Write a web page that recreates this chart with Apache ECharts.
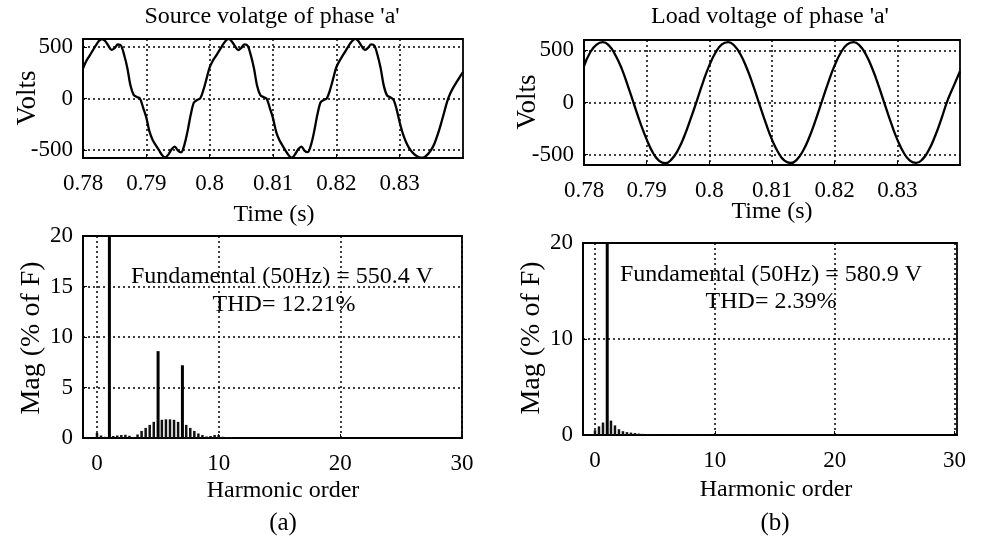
<!DOCTYPE html>
<html><head><meta charset="utf-8">
<script src="https://cdn.jsdelivr.net/npm/echarts@6/dist/echarts.min.js"></script>
<style>html,body{margin:0;padding:0;background:#fff}#c{width:983px;height:546px}</style>
</head><body><div id="c"></div>
<script>
// ---- data ----
const sourceVoltage = [
 [0.7800,290],[0.7805,360],[0.7810,410],[0.7815,460],[0.7820,510],[0.7825,555],[0.7830,575],[0.7835,555],[0.7840,510],[0.7845,470],
 [0.7850,488],[0.7855,522],[0.7860,512],[0.7865,420],[0.7870,295],[0.7875,125],[0.7880,35],[0.7885,15],[0.7890,0],[0.7895,-90],
 [0.7900,-185],[0.7905,-320],[0.7910,-400],[0.7915,-452],[0.7920,-500],[0.7925,-548],[0.7930,-570],[0.7935,-540],[0.7940,-490],[0.7945,-466],
 [0.7950,-505],[0.7955,-520],[0.7960,-450],[0.7965,-320],[0.7970,-160],[0.7975,-40],[0.7980,-15],[0.7985,0],[0.7990,80],[0.7995,190],
 [0.8000,300],[0.8005,365],[0.8010,412],[0.8015,462],[0.8020,512],[0.8025,556],[0.8030,576],[0.8035,552],[0.8040,505],[0.8045,468],
 [0.8050,490],[0.8055,524],[0.8060,510],[0.8065,418],[0.8070,290],[0.8075,120],[0.8080,32],[0.8085,14],[0.8090,-2],[0.8095,-92],
 [0.8100,-190],[0.8105,-322],[0.8110,-402],[0.8115,-455],[0.8120,-505],[0.8125,-550],[0.8130,-572],[0.8135,-538],[0.8140,-488],[0.8145,-465],
 [0.8150,-506],[0.8155,-518],[0.8160,-448],[0.8165,-318],[0.8170,-158],[0.8175,-38],[0.8180,-14],[0.8185,2],[0.8190,82],[0.8195,192],
 [0.8200,302],[0.8205,364],[0.8210,414],[0.8215,462],[0.8220,514],[0.8225,556],[0.8230,576],[0.8235,553],[0.8240,506],[0.8245,469],
 [0.8250,490],[0.8255,523],[0.8260,512],[0.8265,420],[0.8270,292],[0.8275,122],[0.8280,30],[0.8285,12],[0.8290,-10],[0.8295,-100],
 [0.8300,-230],[0.8305,-340],[0.8310,-420],[0.8315,-480],[0.8320,-520],[0.8325,-548],[0.8330,-565],[0.8335,-572],[0.8340,-562],[0.8345,-535],
 [0.8350,-495],[0.8355,-435],[0.8360,-350],[0.8365,-250],[0.8370,-140],[0.8375,-30],[0.8380,50],[0.8385,110],[0.8390,160],[0.8395,210],
 [0.8400,255]
];
const loadVoltage = [
 [0.780,350],[0.781,482],[0.782,556],[0.783,580],[0.784,546],[0.785,456],[0.786,328],[0.787,160],[0.788,-20],[0.789,-198],
 [0.790,-354],[0.791,-482],[0.792,-560],[0.793,-582],[0.794,-544],[0.795,-456],[0.796,-324],[0.797,-160],[0.798,16],[0.799,196],
 [0.800,356],[0.801,480],[0.802,558],[0.803,580],[0.804,545],[0.805,458],[0.806,326],[0.807,162],[0.808,-18],[0.809,-196],
 [0.810,-356],[0.811,-480],[0.812,-558],[0.813,-581],[0.814,-546],[0.815,-458],[0.816,-326],[0.817,-162],[0.818,18],[0.819,196],
 [0.820,356],[0.821,480],[0.822,557],[0.823,580],[0.824,546],[0.825,458],[0.826,326],[0.827,162],[0.828,-18],[0.829,-196],
 [0.830,-356],[0.831,-480],[0.832,-557],[0.833,-580],[0.834,-546],[0.835,-458],[0.836,-326],[0.837,-162],[0.838,18],[0.839,160],
 [0.840,300]
];
const timeTicks = [0.78, 0.79, 0.80, 0.81, 0.82, 0.83];
const voltTicks = [-500, 0, 500];
const harmonicTicks = [0, 10, 20, 30];
const sourceMagTicks = [0, 5, 10, 15, 20];
const loadMagTicks = [0, 10, 20];
const sourceSpectrumMain = [[1,100],[5,8.6],[7,7.2]];
const sourceSpectrumOther = [
 [0,0.5],[0.333,0.25],[0.667,0.12],[1.333,0.2],[1.667,0.25],[2,0.3],[2.333,0.32],[2.667,0.22],[3,0.1],[3.333,0.35],
 [3.667,0.7],[4,1.0],[4.333,1.3],[4.667,1.6],[5.333,1.8],[5.667,1.85],[6,1.85],[6.333,1.8],[6.667,1.6],[7.333,1.3],
 [7.667,1.0],[8,0.7],[8.333,0.45],[8.667,0.3],[9,0.15],[9.333,0.2],[9.667,0.3],[10,0.3],[10.333,0.12],[10.667,0.08],
 [11,0.1],[11.333,0.05],[11.667,0.05],[12,0.05],[12.333,0.04],[12.667,0.04],[13,0.05],[13.333,0.03],[13.667,0.03],[14,0.04]
];
const loadSpectrumMain = [[1,100]];
const loadSpectrumOther = [
 [0,0.5],[0.333,0.9],[0.667,1.3],[1.333,1.5],[1.667,1.0],[2,0.6],[2.333,0.4],[2.667,0.3],[3,0.25],[3.333,0.2],
 [3.667,0.15],[4,0.12],[4.333,0.08],[4.667,0.06],[5,0.05],[6,0.04],[7,0.05],[8.333,0.04],[9,0.04],[10,0.05],
 [11,0.03],[13,0.04],[16,0.04],[17,0.03],[20,0.03]
];
const titles = ["Source volatge of phase 'a'", "Load voltage of phase 'a'"];
const notes = [["Fundamental (50Hz) = 550.4 V", "THD= 12.21%"], ["Fundamental (50Hz) = 580.9 V", "THD= 2.39%"]];

// ---- chart ----
const FONT = 'Liberation Serif';
const INK = '#000';
const chart = echarts.init(document.getElementById('c'), null, {renderer: 'canvas'});

function grid(left, top, width, height) {
  return {left, top, width, height, show: true, borderColor: '#000', borderWidth: 1.8, backgroundColor: 'transparent'};
}
const splitStyle = {show: true, lineStyle: {color: '#000', type: [2, 3], width: 1.5}};
function xAxis(gi, min, max, ticks, fmt) {
  return {
    type: 'value', gridIndex: gi, min, max,
    axisLine: {show: true, onZero: false, lineStyle: {color: '#000', width: 1.8}},
    axisTick: {show: true, inside: true, length: 4, customValues: ticks, lineStyle: {color: '#000'}},
    axisLabel: {customValues: ticks, color: INK, fontFamily: FONT, fontSize: 23, margin: 14, formatter: fmt},
    splitLine: splitStyle
  };
}
function yAxis(gi, min, max, ticks) {
  return {
    type: 'value', gridIndex: gi, min, max,
    axisLine: {show: true, onZero: false, lineStyle: {color: '#000', width: 1.8}},
    axisTick: {show: true, inside: true, length: 4, customValues: ticks, lineStyle: {color: '#000'}},
    axisLabel: {customValues: ticks, color: INK, fontFamily: FONT, fontSize: 23, margin: 10},
    splitLine: splitStyle
  };
}
const fmtTime = v => String(+(+v).toFixed(2));

function txt(x, y, text, size, rot) {
  return {type: 'text', x, y, rotation: rot || 0,
    style: {text, fill: INK, font: size + 'px "' + FONT + '"', textAlign: 'center', textVerticalAlign: 'middle'}, z: 100};
}

const option = {
  animation: false,
  backgroundColor: '#fff',
  grid: [grid(83, 39, 380, 119), grid(584, 40, 376, 125), grid(83, 236, 379, 202), grid(583, 243, 374, 192)],
  xAxis: [
    xAxis(0, 0.78, 0.84, timeTicks, fmtTime),
    xAxis(1, 0.78, 0.84, timeTicks, fmtTime),
    xAxis(2, -1.15, 30, harmonicTicks),
    xAxis(3, -1.0, 30.2, harmonicTicks)
  ],
  yAxis: [
    yAxis(0, -575, 575, voltTicks),
    yAxis(1, -600, 600, voltTicks),
    yAxis(2, 0, 20, sourceMagTicks),
    yAxis(3, 0, 20, loadMagTicks)
  ],
  series: [
    {type: 'line', xAxisIndex: 0, yAxisIndex: 0, data: sourceVoltage, showSymbol: false, smooth: 0.3,
     lineStyle: {color: '#000', width: 2.3}},
    {type: 'line', xAxisIndex: 1, yAxisIndex: 1, data: loadVoltage, showSymbol: false, smooth: 0.5,
     lineStyle: {color: '#000', width: 2.3}},
    {type: 'bar', xAxisIndex: 2, yAxisIndex: 2, data: sourceSpectrumMain, barWidth: 3, barGap: '-100%',
     itemStyle: {color: '#000'}, clip: true},
    {type: 'bar', xAxisIndex: 2, yAxisIndex: 2, data: sourceSpectrumOther, barWidth: 2.5, barGap: '-100%',
     itemStyle: {color: '#111'}, clip: true},
    {type: 'bar', xAxisIndex: 3, yAxisIndex: 3, data: loadSpectrumMain, barWidth: 3, barGap: '-100%',
     itemStyle: {color: '#000'}, clip: true},
    {type: 'bar', xAxisIndex: 3, yAxisIndex: 3, data: loadSpectrumOther, barWidth: 2.5, barGap: '-100%',
     itemStyle: {color: '#111'}, clip: true}
  ],
  graphic: [
    txt(272, 17, titles[0], 24),
    txt(770, 17, titles[1], 24),
    txt(28, 98, 'Volts', 27, Math.PI / 2),
    txt(528, 102, 'Volts', 27, Math.PI / 2),
    txt(274, 215, 'Time (s)', 24),
    txt(772, 212, 'Time (s)', 24),
    txt(32, 338, 'Mag (% of F)', 28, Math.PI / 2),
    txt(532, 338, 'Mag (% of F)', 28, Math.PI / 2),
    txt(283, 491, 'Harmonic order', 24),
    txt(776, 490, 'Harmonic order', 24),
    txt(283, 523, '(a)', 25),
    txt(775, 523, '(b)', 25),
    txt(282, 277, notes[0][0], 24),
    txt(284, 305, notes[0][1], 24),
    txt(771, 275, notes[1][0], 24),
    txt(771, 302, notes[1][1], 24)
  ]
};
chart.setOption(option);
</script></body></html>
